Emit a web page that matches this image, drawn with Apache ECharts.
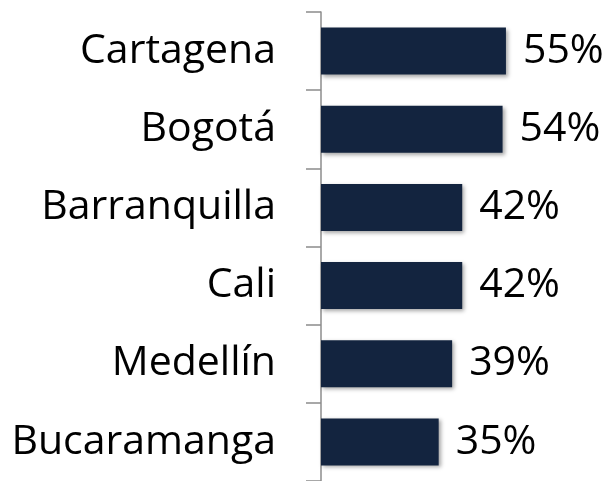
<!DOCTYPE html>
<html>
<head>
<meta charset="utf-8">
<script src="https://cdn.jsdelivr.net/npm/echarts@6/dist/echarts.min.js"></script>
<style>
  html, body { margin: 0; padding: 0; background: #fff; }
  #chart { width: 610px; height: 481px; }
</style>
</head>
<body>
<div id="chart"></div>
<script>
// datos del gráfico
const cities = ["Cartagena", "Bogotá", "Barranquilla", "Cali", "Medellín", "Bucaramanga"];
const shares = [55, 54, 42, 42, 39, 35];

const chart = echarts.init(document.getElementById("chart"));

const option = {
  animation: false,
  grid: {
    top: 12,
    bottom: -4,
    left: 321,
    right: 20,
    containLabel: false,
  },
  xAxis: {
    type: "value",
    min: 0,
    max: 80,
    show: false,
  },
  yAxis: {
    type: "category",
    data: cities,
    inverse: true,
    axisLine: {
      show: true,
      lineStyle: { color: "#8c8c8c", width: 1.5 },
    },
    axisTick: {
      show: true,
      length: 15,
      lineStyle: { color: "#8c8c8c", width: 1.5 },
    },
    axisLabel: {
      color: "#000",
      fontFamily: "Open Sans",
      fontSize: 41,
      margin: 45,
    },
  },
  series: [
    {
      type: "bar",
      data: shares,
      barWidth: 47,
      itemStyle: {
        color: "#13243f",
        shadowColor: "rgba(0, 0, 0, 0.35)",
        shadowBlur: 4,
        shadowOffsetX: 2,
        shadowOffsetY: 2,
      },
      label: {
        show: true,
        position: "right",
        distance: 17,
        formatter: "{c}%",
        color: "#000",
        fontFamily: "Open Sans",
        fontSize: 41,
      },
    },
  ],
};

chart.setOption(option);
</script>
</body>
</html>
